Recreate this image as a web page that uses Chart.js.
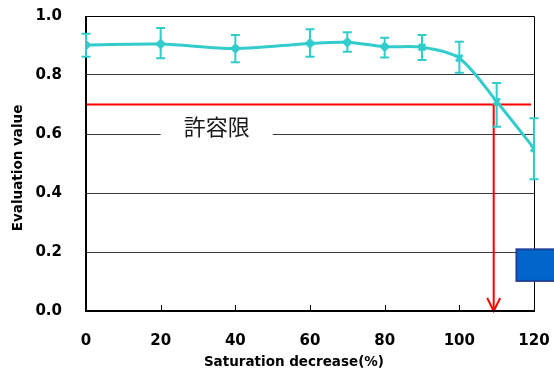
<!DOCTYPE html>
<html>
<head>
<meta charset="utf-8">
<script src="https://cdn.jsdelivr.net/npm/chart.js@4/dist/chart.umd.min.js"></script>
<style>
  html, body { margin: 0; padding: 0; background: #fff; }
  #c { display: block; }
</style>
</head>
<body>
<canvas id="c" width="554" height="374"></canvas>
<script>
// Saturation decrease (%) and the measured evaluation values with their spread
const saturationDecrease = [0, 20, 40, 60, 70, 80, 90, 100, 110, 120];
const evaluationMean     = [0.902, 0.905, 0.890, 0.907, 0.911, 0.896, 0.894, 0.857, 0.710, 0.551];
const evaluationHigh     = [0.940, 0.959, 0.936, 0.955, 0.945, 0.926, 0.936, 0.913, 0.773, 0.653];
const evaluationLow      = [0.862, 0.857, 0.843, 0.862, 0.879, 0.859, 0.851, 0.808, 0.625, 0.447];
const markerStyles       = ['rectRot', 'rectRot', 'rectRot', 'rectRot', 'rectRot', 'rectRot',
                            'crossRot', 'crossRot', 'crossRot', 'crossRot'];

// Tolerance limit and the decrease where the curve reaches it
const toleranceLimit = 0.7;
const toleranceCross = 109.2;
const toleranceLabel = '許容限';
const toleranceLabelAt = { x: 35, y: 0.624 };

// Axis ticks and titles
const xTicks = [0, 20, 40, 60, 80, 100, 120];
const yTicks = [0.0, 0.2, 0.4, 0.6, 0.8, 1.0];
const xTitle = 'Saturation decrease(%)';
const yTitle = 'Evaluation value';

const CYAN = '#33CCCC';
const RED = '#FF0000';
const tickFont = { family: 'DejaVu Sans', size: 15, weight: 'bold' };
const titleCss = 'bold 13.5px "DejaVu Sans"';

// Plot frame, inward x tick marks, tolerance lines and label
const framePlugin = {
  id: 'frame',
  beforeDatasetsDraw(chart) {
    const { ctx, chartArea: a, scales: { x, y } } = chart;
    ctx.save();
    // red tolerance line and the arrow down to the x axis
    const yLim = y.getPixelForValue(toleranceLimit);
    const xCross = x.getPixelForValue(toleranceCross);
    ctx.strokeStyle = RED;
    ctx.lineWidth = 2;
    ctx.beginPath();
    ctx.moveTo(a.left, yLim);
    ctx.lineTo(x.getPixelForValue(119.2), yLim);
    ctx.moveTo(xCross, yLim);
    ctx.lineTo(xCross, a.bottom);
    ctx.stroke();
    ctx.beginPath();
    ctx.moveTo(xCross - 6.5, a.bottom - 13);
    ctx.lineTo(xCross, a.bottom);
    ctx.lineTo(xCross + 6.5, a.bottom - 13);
    ctx.stroke();

    // label with a white backing
    const lx = x.getPixelForValue(toleranceLabelAt.x);
    const ly = y.getPixelForValue(toleranceLabelAt.y);
    ctx.fillStyle = '#fff';
    ctx.fillRect(lx - 56, yLim + 1.5, 112, 34);
    ctx.fillStyle = '#1a1a1a';
    ctx.font = '22px "Noto Sans CJK JP"';
    ctx.textAlign = 'center';
    ctx.textBaseline = 'middle';
    ctx.fillText(toleranceLabel, lx, ly);

    // frame
    ctx.strokeStyle = '#000';
    ctx.lineWidth = 1;
    ctx.beginPath();
    ctx.moveTo(a.left, a.top + 0.5);
    ctx.lineTo(a.right + 0.5, a.top + 0.5);
    ctx.lineTo(a.right + 0.5, a.bottom);
    ctx.stroke();
    ctx.lineWidth = 2;
    ctx.beginPath();
    ctx.moveTo(a.left, a.top);
    ctx.lineTo(a.left, a.bottom);
    ctx.lineTo(a.right + 1, a.bottom);
    ctx.stroke();
    ctx.lineWidth = 1;
    ctx.beginPath();
    xTicks.slice(1, -1).forEach(v => {
      const px = Math.round(x.getPixelForValue(v)) + 0.5;
      ctx.moveTo(px, a.bottom);
      ctx.lineTo(px, a.bottom - 6);
    });
    ctx.stroke();
    ctx.restore();
  },
  afterDatasetsDraw(chart) {
    const { ctx, scales: { x, y } } = chart;
    ctx.save();
    ctx.strokeStyle = CYAN;
    ctx.lineWidth = 2;
    ctx.beginPath();
    saturationDecrease.forEach((v, i) => {
      const px = x.getPixelForValue(v);
      const yh = y.getPixelForValue(evaluationHigh[i]);
      const yl = y.getPixelForValue(evaluationLow[i]);
      ctx.moveTo(px, yh);
      ctx.lineTo(px, yl);
      ctx.moveTo(px - 4.5, yh);
      ctx.lineTo(px + 4.5, yh);
      ctx.moveTo(px - 4.5, yl);
      ctx.lineTo(px + 4.5, yl);
    });
    ctx.stroke();
    ctx.restore();
  },
  afterDraw(chart) {
    const { ctx, chartArea: a, scales: { x, y } } = chart;
    ctx.save();
    // axis titles
    ctx.fillStyle = '#000';
    ctx.font = titleCss;
    ctx.textAlign = 'center';
    ctx.textBaseline = 'middle';
    ctx.fillText(xTitle, x.getPixelForValue(55.7), 362);
    ctx.translate(18, y.getPixelForValue(0.485));
    ctx.rotate(-Math.PI / 2);
    ctx.fillText(yTitle, 0, 0);
    ctx.restore();

    // blue note box at the lower right
    const x0 = x.getPixelForValue(115.3);
    const y0 = y.getPixelForValue(0.209);
    const y1 = y.getPixelForValue(0.102);
    ctx.save();
    ctx.fillStyle = '#0066CC';
    ctx.fillRect(x0, y0, chart.width - x0 + 2, y1 - y0);
    ctx.strokeStyle = '#1F3F99';
    ctx.lineWidth = 2;
    ctx.strokeRect(x0, y0, chart.width - x0 + 4, y1 - y0);
    ctx.restore();
  }
};

const noOverflow = s => {
  s.paddingTop = 0; s.paddingBottom = 0; s.paddingLeft = 0; s.paddingRight = 0;
};

new Chart(document.getElementById('c'), {
  type: 'line',
  data: {
    datasets: [{
      data: saturationDecrease.map((v, i) => ({ x: v, y: evaluationMean[i] })),
      borderColor: CYAN,
      backgroundColor: CYAN,
      borderWidth: 3,
      tension: 0.3,
      pointStyle: markerStyles,
      pointRadius: markerStyles.map(s => s === 'rectRot' ? 5 : 4.5),
      pointBorderWidth: markerStyles.map(s => s === 'rectRot' ? 1 : 3),
      pointBorderColor: CYAN,
      pointBackgroundColor: CYAN,
      fill: false
    }]
  },
  options: {
    responsive: false,
    devicePixelRatio: 1,
    animation: false,
    layout: { autoPadding: false, padding: { top: 16, right: 20, left: 0, bottom: 0 } },
    plugins: { legend: { display: false }, tooltip: { enabled: false } },
    scales: {
      x: {
        type: 'linear',
        min: 0, max: 120,
        afterBuildTicks: s => { s.ticks = xTicks.map(v => ({ value: v })); },
        afterFit: s => { s.height = 63; noOverflow(s); },
        ticks: { font: tickFont, color: '#000', padding: 21, maxRotation: 0 },
        grid: { display: false, drawTicks: false },
        border: { display: false },
        title: { display: false }
      },
      y: {
        min: 0, max: 1,
        afterBuildTicks: s => { s.ticks = yTicks.map(v => ({ value: v })); },
        afterFit: s => { s.width = 86; noOverflow(s); },
        ticks: { font: tickFont, color: '#000', padding: 24, callback: v => v.toFixed(1) },
        grid: {
          drawTicks: false,
          color: c => (c.tick && (c.tick.value === 0 || c.tick.value === 1)) ? 'rgba(0,0,0,0)' : '#3a3a3a',
          lineWidth: 1
        },
        border: { display: false },
        title: { display: false }
      }
    }
  },
  plugins: [framePlugin]
});
</script>
</body>
</html>
